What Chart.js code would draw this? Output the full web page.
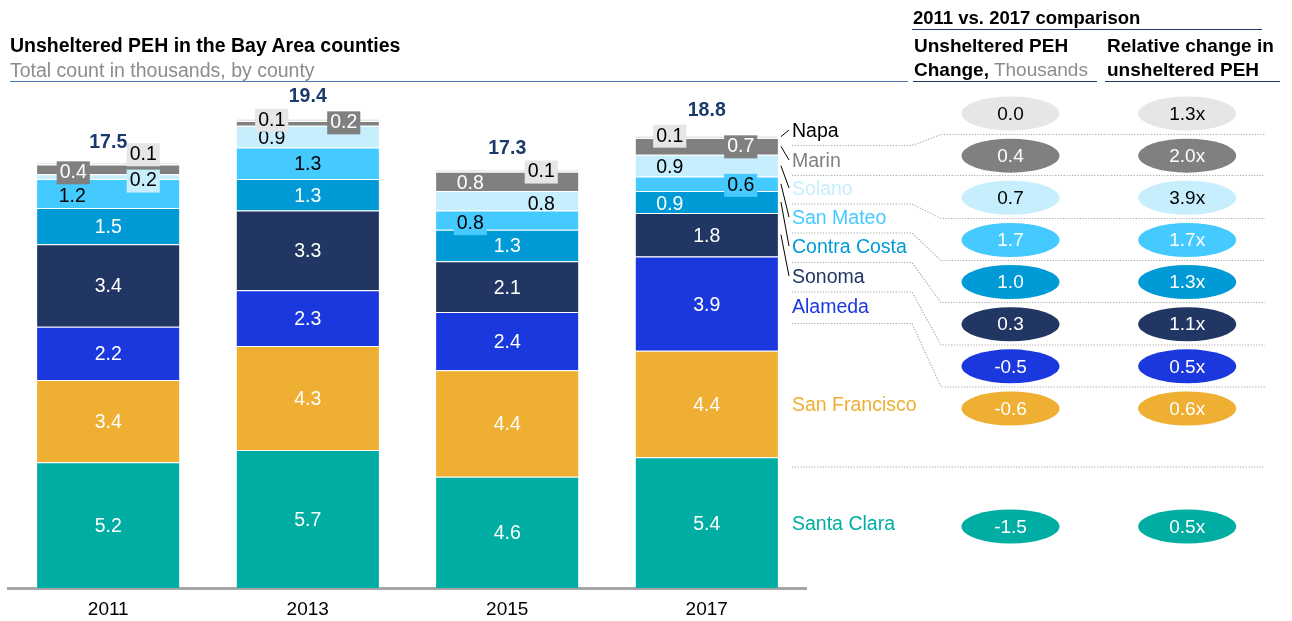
<!DOCTYPE html>
<html lang="en">
<head>
  <meta charset="UTF-8">
  <title>Unsheltered PEH in the Bay Area counties</title>
  <script src="https://cdn.jsdelivr.net/npm/chart.js"></script>
  <style>
    body {
      margin: 0;
      background: #fff;
      font-family: 'Liberation Sans', Arial, sans-serif;
      color: #000;
    }
    #wrap { position: relative; width: 1292px; height: 621px; overflow: hidden; }
    canvas { position: absolute; top: 0; }
    #barChart { left: 0; }
    #tableChart { left: 900px; }
    .txt { position: absolute; white-space: nowrap; line-height: 20px; }
    .rule { position: absolute; height: 0; }
    .b { font-weight: bold; }
  </style>
</head>
<body>
<div id="wrap">
  <canvas id="barChart" width="1292" height="621"></canvas>
  <canvas id="tableChart" width="392" height="621"></canvas>

  <!-- left header -->
  <div class="txt b" style="left:10px;top:35px;font-size:19.5px">Unsheltered PEH in the Bay Area counties</div>
  <div class="txt" style="left:10px;top:60px;font-size:19.5px;color:#8c8c8c">Total count in thousands, by county</div>
  <div class="rule" style="left:10px;top:81px;width:898px;border-top:1.5px solid #4f72b0"></div>

  <!-- right header -->
  <div class="txt b" style="left:913px;top:7.6px;font-size:18.5px">2011 vs. 2017 comparison</div>
  <div class="rule" style="left:912px;top:28.5px;width:350px;border-top:1.5px solid #1f3864"></div>
  <div class="txt b" style="left:914px;top:36.4px;font-size:19px">Unsheltered PEH</div>
  <div class="txt" style="left:914px;top:60.4px;font-size:19px"><span class="b">Change,</span> <span style="color:#8c8c8c">Thousands</span></div>
  <div class="rule" style="left:913px;top:80.5px;width:184px;border-top:1.5px solid #1f3864"></div>
  <div class="txt b" style="left:1107px;top:36.4px;font-size:19px">Relative change in</div>
  <div class="txt b" style="left:1107px;top:60.4px;font-size:19px">unsheltered PEH</div>
  <div class="rule" style="left:1105px;top:80.5px;width:175px;border-top:1.5px solid #1f3864"></div>

  <div id="names"></div>
</div>

<script>
  // ---- data ----
  const years = ['2011', '2013', '2015', '2017'];
  // stack order, bottom to top
  const counties = ['Santa Clara', 'San Francisco', 'Alameda', 'Sonoma', 'Contra Costa',
                    'San Mateo', 'Solano', 'Marin', 'Napa'];
  const santaClara   = [5.2, 5.7, 4.6, 5.4];
  const sanFrancisco = [3.4, 4.3, 4.4, 4.4];
  const alameda      = [2.2, 2.3, 2.4, 3.9];
  const sonoma       = [3.4, 3.3, 2.1, 1.8];
  const contraCosta  = [1.5, 1.3, 1.3, 0.9];
  const sanMateo     = [1.2, 1.3, 0.8, 0.6];
  const solano       = [0.2, 0.9, 0.8, 0.9];
  const marin        = [0.4, 0.2, 0.8, 0.7];
  const napa         = [0.1, 0.1, 0.1, 0.1];
  const totals       = [17.5, 19.4, 17.3, 18.8];
  const series = [santaClara, sanFrancisco, alameda, sonoma, contraCosta, sanMateo, solano, marin, napa];

  // 2011 vs 2017 table, top to bottom
  const tableCounties = ['Napa', 'Marin', 'Solano', 'San Mateo', 'Contra Costa', 'Sonoma',
                         'Alameda', 'San Francisco', 'Santa Clara'];
  const changeK   = [0.0, 0.4, 0.7, 1.7, 1.0, 0.3, -0.5, -0.6, -1.5];
  const relChange = [1.3, 2.0, 3.9, 1.7, 1.3, 1.1, 0.5, 0.6, 0.5];

  // ---- styling / layout ----
  const FONT = "'Liberation Sans', Arial, sans-serif";
  const colors = {
    'Santa Clara': '#00ada3', 'San Francisco': '#eeaf32', 'Alameda': '#1b38df',
    'Sonoma': '#213662', 'Contra Costa': '#009bd6', 'San Mateo': '#44caff',
    'Solano': '#c7eefd', 'Marin': '#808080', 'Napa': '#e6e6e6'
  };
  const darkInk = ['Napa', 'Solano', 'San Mateo'];          // black labels inside bars
  const nameInk = Object.assign({}, colors, { 'Napa': '#000' });
  // name column: cap centre of each county name
  const nameY = [130, 160, 188, 217, 246, 276, 306, 404, 523];
  // table rows (slot units, one slot per row)
  const rowSlots = [0, 1, 2, 3, 4, 5, 6, 7, 9.8];
  // small labels pushed aside: [dx, dy, boxed]
  const nudges = {
    'Contra Costa': [null, null, null, [-37, 1, 0]],
    'San Mateo':    [[-36, 2, 0], null, [-37, 2, 1], [34, 0, 1]],
    'Solano':       [[35, 3, 1], [-36, 0, 0], [34, 2, 0], [-37, 0, 0]],
    'Marin':        [[-35, 2, 1], [36, -2, 1], [-37, 1, 0], [34, -1, 1]],
    'Napa':         [[35, -10, 1], [-36, -1, 1], [34, 0, 1], [-37, -2, 1]]
  };
  const totalLift = [-19, -22, -21, -25];
  // dotted separators: [y at names, y at table]
  const separators = [[145.5, 134.5], [175.5, 175.5], [204, 218.5], [233, 260.5],
                      [262.5, 302.5], [292, 345], [323.5, 387], [467, 467]];

  // county names next to the 2017 bar
  const namesBox = document.getElementById('names');
  tableCounties.forEach((name, r) => {
    const d = document.createElement('div');
    d.className = 'txt';
    d.style.cssText = `left:792px;top:${nameY[r] - 9.8}px;font-size:19.5px;color:${nameInk[name]}`;
    d.textContent = name;
    namesBox.appendChild(d);
  });

  // values inside / beside segments plus totals on top
  const barLabels = {
    id: 'barLabels',
    afterDatasetsDraw(chart) {
      const ctx = chart.ctx;
      ctx.save();
      ctx.font = `19.5px ${FONT}`;
      ctx.textAlign = 'center';
      ctx.textBaseline = 'middle';
      chart.data.datasets.forEach((ds, di) => {
        chart.getDatasetMeta(di).data.forEach((bar, i) => {
          const n = (nudges[ds.label] || [])[i] || [0, 0, 0];
          const txt = ds.data[i].toFixed(1);
          const x = bar.x + n[0];
          const y = (bar.y + bar.base) / 2 + 1.5 + n[1];
          if (n[2]) {
            const w = ctx.measureText(txt).width + 6;
            ctx.fillStyle = ds.backgroundColor;
            ctx.fillRect(x - w / 2, y - 11.5, w, 23);
          }
          ctx.fillStyle = darkInk.includes(ds.label) ? '#000' : '#fff';
          ctx.fillText(txt, x, y);
        });
      });
      const top = chart.getDatasetMeta(chart.data.datasets.length - 1).data;
      ctx.font = `bold 19.5px ${FONT}`;
      ctx.fillStyle = '#1b3a6b';
      top.forEach((bar, i) => ctx.fillText(totals[i].toFixed(1), bar.x, bar.y + totalLift[i]));
      ctx.restore();
    }
  };

  // leader lines and dotted row rules
  const guides = {
    id: 'guides',
    afterDraw(chart) {
      const ctx = chart.ctx;
      ctx.save();
      ctx.strokeStyle = '#000';
      ctx.lineWidth = 1;
      ['Napa', 'Marin', 'Solano', 'San Mateo', 'Contra Costa', 'Sonoma'].forEach(name => {
        const bar = chart.getDatasetMeta(counties.indexOf(name)).data[3];
        ctx.beginPath();
        ctx.moveTo(bar.x + bar.width / 2 + 3, (bar.y + bar.base) / 2);
        ctx.lineTo(789, nameY[tableCounties.indexOf(name)]);
        ctx.stroke();
      });
      ctx.strokeStyle = '#a8a8a8';
      ctx.lineWidth = 1.2;
      ctx.setLineDash([1.2, 1.6]);
      separators.forEach(([yl, yr]) => {
        ctx.beginPath();
        ctx.moveTo(792, yl);
        if (yl !== yr) { ctx.lineTo(912, yl); ctx.lineTo(941, yr); }
        ctx.lineTo(1265, yr);
        ctx.stroke();
      });
      ctx.restore();
    }
  };

  Chart.defaults.font.family = FONT;

  new Chart(document.getElementById('barChart'), {
    type: 'bar',
    data: {
      labels: years,
      datasets: counties.map((name, k) => ({
        label: name,
        data: series[k],
        backgroundColor: colors[name],
        borderColor: '#fff',
        borderWidth: { top: 1, left: 0, right: 0, bottom: 0 },
        borderSkipped: false,
        categoryPercentage: 1,
        barPercentage: 0.7136
      }))
    },
    options: {
      responsive: false,
      animation: false,
      layout: { padding: { left: 8.5, right: 485.5, top: 104, bottom: 0 } },
      plugins: { legend: { display: false }, tooltip: { enabled: false } },
      scales: {
        x: {
          stacked: true,
          z: 1,
          grid: { display: false, drawTicks: false },
          border: { color: '#a6a6a6', width: 3 },
          ticks: { color: '#000', font: { size: 19 }, padding: 10 },
          afterFit(scale) { scale.height = 33; }
        },
        y: { stacked: true, display: false, min: 0, max: 20 }
      }
    },
    plugins: [barLabels, guides]
  });

  // ovals of the comparison table
  const ovals = {
    id: 'ovals',
    afterDatasetsDraw(chart) {
      const ctx = chart.ctx;
      ctx.save();
      ctx.font = `19px ${FONT}`;
      ctx.textAlign = 'center';
      ctx.textBaseline = 'middle';
      chart.data.datasets.forEach((ds, di) => {
        chart.getDatasetMeta(di).data.forEach((pt, r) => {
          const name = tableCounties[r];
          ctx.fillStyle = colors[name];
          ctx.beginPath();
          ctx.ellipse(pt.x, pt.y, 49, 17, 0, 0, Math.PI * 2);
          ctx.fill();
          ctx.fillStyle = (name === 'Napa' || name === 'Solano') ? '#000' : '#fff';
          const v = ds.data[r].v;
          ctx.fillText(di === 0 ? v.toFixed(1) : v.toFixed(1) + 'x', pt.x, pt.y + 1);
        });
      });
      ctx.restore();
    }
  };

  new Chart(document.getElementById('tableChart'), {
    type: 'scatter',
    data: {
      datasets: [
        { label: 'Change', data: changeK.map((v, r) => ({ x: 0, y: rowSlots[r], v })), pointRadius: 0 },
        { label: 'Relative', data: relChange.map((v, r) => ({ x: 1, y: rowSlots[r], v })), pointRadius: 0 }
      ]
    },
    options: {
      responsive: false,
      animation: false,
      layout: { padding: 0 },
      plugins: { legend: { display: false }, tooltip: { enabled: false } },
      scales: {
        x: { type: 'linear', display: false, min: -0.6254, max: 1.5931 },
        y: { type: 'linear', display: false, reverse: true, min: -2.6934, max: 12.043 }
      }
    },
    plugins: [ovals]
  });
</script>
</body>
</html>
